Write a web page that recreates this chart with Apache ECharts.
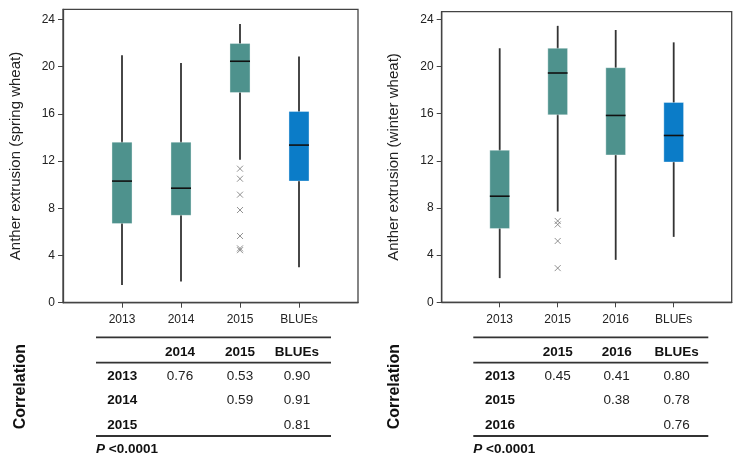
<!DOCTYPE html>
<html>
<head>
<meta charset="utf-8">
<script src="https://cdn.jsdelivr.net/npm/echarts@6/dist/echarts.min.js"></script>
<style>
html,body{margin:0;padding:0;background:#fff;}
#c{width:743px;height:459px;}
</style>
</head>
<body>
<div id="c"></div>
<script>
// ---- Data: spring wheat ----
const springCategories = ['2013', '2014', '2015', 'BLUEs'];
const springMin    = [1.5, 1.8, 12.1, 3.0];
const springQ1     = [6.7, 7.4, 17.8, 10.3];
const springMedian = [10.3, 9.7, 20.45, 13.35];
const springQ3     = [13.6, 13.6, 21.95, 16.2];
const springMax    = [20.95, 20.3, 23.6, 20.85];
const springOutlierCategory = '2015';
const springOutliers = [11.35, 10.5, 9.15, 7.85, 5.65, 4.6, 4.45];

// ---- Data: winter wheat ----
const winterCategories = ['2013', '2015', '2016', 'BLUEs'];
const winterMin    = [2.05, 7.7, 3.6, 5.55];
const winterQ1     = [6.25, 15.9, 12.5, 11.9];
const winterMedian = [9.0, 19.45, 15.85, 14.15];
const winterQ3     = [12.9, 21.55, 19.9, 16.95];
const winterMax    = [21.55, 23.45, 23.1, 22.05];
const winterOutlierCategory = '2015';
const winterOutliers = [6.9, 6.6, 5.2, 2.9];

const yTicks = [0, 4, 8, 12, 16, 20, 24];

// ---- Correlation tables ----
const springCorrCols = ['2014', '2015', 'BLUEs'];
const springCorrRows = ['2013', '2014', '2015'];
const springCorrVals = [['0.76', '0.53', '0.90'], ['', '0.59', '0.91'], ['', '', '0.81']];
const winterCorrCols = ['2015', '2016', 'BLUEs'];
const winterCorrRows = ['2013', '2015', '2016'];
const winterCorrVals = [['0.45', '0.41', '0.80'], ['', '0.38', '0.78'], ['', '', '0.76']];
const pText = '<0.0001';

const TEAL = '#4e928d';
const BLUE = '#0b7cc8';
const FONT = '"Liberation Sans", Arial, sans-serif';

function boxData(cats, mn, q1, md, q3, mx) {
  return cats.map((c, i) => [i + 1, mn[i], q1[i], md[i], q3[i], mx[i]]);
}
function outlierData(cats, cat, vals) {
  const x = cats.indexOf(cat) + 1;
  return vals.map(v => [x, v]);
}
function renderBox(params, api) {
  const x = api.value(0);
  const pMin = api.coord([x, api.value(1)]);
  const pQ1 = api.coord([x, api.value(2)]);
  const pMd = api.coord([x, api.value(3)]);
  const pQ3 = api.coord([x, api.value(4)]);
  const pMax = api.coord([x, api.value(5)]);
  const hw = api.size([1, 0])[0] * 0.17;
  const cx = pMin[0];
  const color = api.value(0) === 4 ? BLUE : TEAL;
  return {
    type: 'group',
    children: [
      { type: 'line', shape: { x1: cx, y1: pMax[1], x2: cx, y2: pMin[1] },
        style: { stroke: '#333', lineWidth: 1.8 } },
      { type: 'rect', shape: { x: cx - hw, y: pQ3[1], width: hw * 2, height: pQ1[1] - pQ3[1] },
        style: { fill: color, stroke: 'rgba(255,255,255,0.35)', lineWidth: 1 } },
      { type: 'line', shape: { x1: cx - hw, y1: pMd[1], x2: cx + hw, y2: pMd[1] },
        style: { stroke: '#111', lineWidth: 1.6 } }
    ]
  };
}

function xAxisCfg(gridIndex, cats) {
  return {
    type: 'value', gridIndex, min: 0, max: 5,
    axisLine: { show: true, lineStyle: { color: '#444', width: 1.3 } },
    axisTick: { show: true, length: 5, customValues: [1, 2, 3, 4], lineStyle: { color: '#444' } },
    axisLabel: { customValues: [1, 2, 3, 4], margin: 11, color: '#222', fontSize: 12, fontFamily: FONT,
      formatter: v => cats[Math.round(v) - 1] || '' },
    splitLine: { show: false }
  };
}
function yAxisCfg(gridIndex, max, name) {
  return {
    type: 'value', gridIndex, min: 0, max: max,
    name: name, nameLocation: 'middle', nameGap: 40,
    nameTextStyle: { fontSize: 15, color: '#222', fontFamily: FONT },
    axisLine: { show: true, lineStyle: { color: '#444', width: 1.3 } },
    axisTick: { show: true, length: 5, customValues: yTicks, lineStyle: { color: '#444' } },
    axisLabel: { customValues: yTicks, margin: 8, color: '#222', fontSize: 12, fontFamily: FONT },
    splitLine: { show: false }
  };
}

const xSymbol = 'path://M0,0L10,10M10,0L0,10';

const chart = echarts.init(document.getElementById('c'), null, { renderer: 'canvas' });
chart.setOption({
  animation: false,
  backgroundColor: '#fff',
  grid: [
    { left: 63, top: 9.3, width: 295, height: 293.4, show: true, borderColor: '#444', borderWidth: 1.3, backgroundColor: 'transparent' },
    { left: 441.7, top: 11.7, width: 290, height: 290.6, show: true, borderColor: '#444', borderWidth: 1.3, backgroundColor: 'transparent' }
  ],
  xAxis: [xAxisCfg(0, springCategories), xAxisCfg(1, winterCategories)],
  yAxis: [yAxisCfg(0, 24.85, 'Anther extrusion (spring wheat)'), yAxisCfg(1, 24.65, 'Anther extrusion (winter wheat)')],
  series: [
    { type: 'custom', xAxisIndex: 0, yAxisIndex: 0, renderItem: renderBox,
      encode: { x: 0, y: [1, 2, 3, 4, 5] },
      data: boxData(springCategories, springMin, springQ1, springMedian, springQ3, springMax) },
    { type: 'custom', xAxisIndex: 1, yAxisIndex: 1, renderItem: renderBox,
      encode: { x: 0, y: [1, 2, 3, 4, 5] },
      data: boxData(winterCategories, winterMin, winterQ1, winterMedian, winterQ3, winterMax) },
    { type: 'scatter', xAxisIndex: 0, yAxisIndex: 0, symbol: xSymbol, symbolSize: 6,
      itemStyle: { color: 'transparent', borderColor: '#777', borderWidth: 1 },
      data: outlierData(springCategories, springOutlierCategory, springOutliers) },
    { type: 'scatter', xAxisIndex: 1, yAxisIndex: 1, symbol: xSymbol, symbolSize: 6,
      itemStyle: { color: 'transparent', borderColor: '#777', borderWidth: 1 },
      data: outlierData(winterCategories, winterOutlierCategory, winterOutliers) }
  ]
});

// ---- Tables drawn as graphic elements ----
function tableElements(gridIndex, cols, rows, vals, lineX1, lineX2, rowLabelX, corrX, colShift) {
  const els = [];
  const lineStyle = { stroke: '#333', lineWidth: 1.8 };
  [337.3, 362.7, 436].forEach(y => {
    els.push({ type: 'line', shape: { x1: lineX1, y1: y, x2: lineX2, y2: y }, style: lineStyle });
  });
  const headerY = 352.7;
  const rowY = [376, 400.7, 425.5];
  cols.forEach((c, j) => {
    const px = chart.convertToPixel({ gridIndex: gridIndex }, [j + 2, 0])[0] + colShift[j];
    els.push({ type: 'text', x: px, y: headerY,
      style: { text: c, fill: '#111', font: 'bold 13.5px ' + FONT, textAlign: 'center', textVerticalAlign: 'middle' } });
    rows.forEach((r, i) => {
      if (vals[i][j]) {
        els.push({ type: 'text', x: px, y: rowY[i],
          style: { text: vals[i][j], fill: '#222', font: '13.5px ' + FONT, textAlign: 'center', textVerticalAlign: 'middle' } });
      }
    });
  });
  rows.forEach((r, i) => {
    els.push({ type: 'text', x: rowLabelX, y: rowY[i],
      style: { text: r, fill: '#111', font: 'bold 13.5px ' + FONT, textAlign: 'left', textVerticalAlign: 'middle' } });
  });
  els.push({ type: 'text', x: corrX, y: 386.7, rotation: Math.PI / 2,
    style: { text: 'Correlation', fill: '#111', font: 'bold 16px ' + FONT, textAlign: 'center', textVerticalAlign: 'middle' } });
  els.push({ type: 'text', x: lineX1, y: 449,
    style: { text: '{i|P} ' + pText, fill: '#111', font: 'bold 13.5px ' + FONT, textAlign: 'left', textVerticalAlign: 'middle',
      rich: { i: { fontStyle: 'italic', fontWeight: 'bold', fontSize: 13.5, fontFamily: FONT, fill: '#111' } } } });
  return els;
}

chart.setOption({
  graphic: {
    elements: [].concat(
      tableElements(0, springCorrCols, springCorrRows, springCorrVals, 96, 331, 107.3, 20.7, [-1, 0, -2]),
      tableElements(1, winterCorrCols, winterCorrRows, winterCorrVals, 473.3, 708.3, 485, 395, [0, 1, 3])
    )
  }
});
</script>
</body>
</html>
